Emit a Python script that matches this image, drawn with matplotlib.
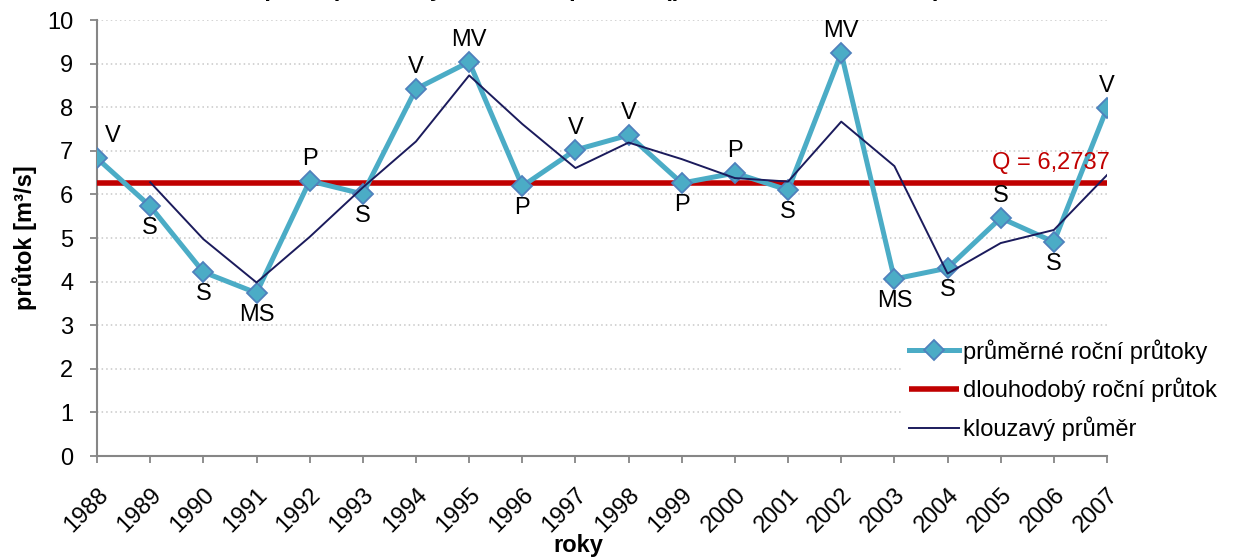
import matplotlib.pyplot as plt
from matplotlib.transforms import ScaledTranslation
import pandas as pd

plt.rcParams['font.family'] = ['Liberation Sans', 'DejaVu Sans']

years = list(range(1988, 2008))
flows = [6.83, 5.73, 4.22, 3.74, 6.31, 6.01, 8.42, 9.04, 6.19, 7.02,
         7.36, 6.26, 6.49, 6.10, 9.24, 4.06, 4.31, 5.46, 4.91, 7.98]
classes = ['V', 'S', 'S', 'MS', 'P', 'S', 'V', 'MV', 'P', 'V',
           'V', 'P', 'P', 'S', 'MV', 'MS', 'S', 'S', 'S', 'V']
label_above = [True, False, False, False, True, False, True, True, False, True,
               True, False, True, False, True, False, False, True, False, True]
q_long = 6.2737

# klouzavy prumer ze dvou po sobe jdoucich let
moving = pd.Series(flows).rolling(2).mean()

blue = '#4BACC6'
red = '#C00000'
navy = '#1B1B5C'
gray = '#868686'
fs = 17

fig = plt.figure(figsize=(12.44, 5.57), dpi=100)
ax = fig.add_axes([0.078, 0.1813, 0.8119, 0.7827])

ax.plot(years, flows, color=blue, lw=3.6, marker='D', markersize=10.5,
        markerfacecolor=blue, markeredgecolor='#4F81BD', markeredgewidth=1.3,
        label='průměrné roční průtoky', zorder=4)
ax.plot([years[0], years[-1]], [q_long, q_long], color=red, lw=4.0,
        label='dlouhodobý roční průtok', zorder=3, solid_capstyle='butt')
ax.plot(years, moving, color=navy, lw=1.4, label='klouzavý průměr', zorder=5)

for yr, val, txt, up in zip(years, flows, classes, label_above):
    dx = 0.3 if yr == 1988 else 0
    if up:
        ax.annotate(txt, (yr + dx, val), xytext=(0, 8), textcoords='offset points',
                    ha='center', va='bottom', fontsize=fs)
    else:
        ax.annotate(txt, (yr, val), xytext=(0, -8), textcoords='offset points',
                    ha='center', va='top', fontsize=fs)

ax.text(years[-1] + 0.05, q_long + 0.2, 'Q = ' + f'{q_long}'.replace('.', ','),
        color=red, fontsize=fs, ha='right', va='bottom', zorder=6)

ax.set_xlim(years[0], years[-1])
ax.set_ylim(0, 10)
ax.set_xticks(years)
ax.set_xticklabels([str(y) for y in years], rotation=45, ha='right', va='top',
                   rotation_mode='anchor', fontsize=fs)
shift = ScaledTranslation(6 / 100, 0, fig.dpi_scale_trans)
for lbl in ax.get_xticklabels():
    lbl.set_transform(lbl.get_transform() + shift)
ax.set_yticks(range(0, 11))
ax.tick_params(axis='y', labelsize=fs, length=5, width=1.3, color=gray, pad=12)
ax.tick_params(axis='x', length=5, width=1.3, color=gray, pad=15)

ax.yaxis.grid(True, linestyle=(0, (1, 2)), color='#C8C8C8', lw=1.1)
ax.set_axisbelow(True)
for side in ['top', 'right']:
    ax.spines[side].set_visible(False)
for side in ['left', 'bottom']:
    ax.spines[side].set_color(gray)
    ax.spines[side].set_linewidth(1.5)

ax.set_xlabel('roky', fontsize=fs, fontweight='bold')
ax.xaxis.set_label_coords(0.477, -0.206)
ax.xaxis.label.set_va('center')
ax.set_ylabel('průtok [m³/s]', fontsize=fs, fontweight='bold')
ax.yaxis.set_label_coords(-0.059, 0.5)

leg = ax.legend(loc='upper left', bbox_to_anchor=(902 / 1244, 1 - 332 / 557),
                bbox_transform=fig.transFigure, frameon=True, fontsize=fs,
                handlelength=2.1, handletextpad=0.2, labelspacing=0.6,
                borderaxespad=0, borderpad=0.3)
leg.get_frame().set_edgecolor('none')
leg.get_frame().set_facecolor('white')
leg.get_frame().set_alpha(1)

fig.text(941 / 1244, 1 + 4 / 557,
         'Vodnost roků podle průměrných ročních průtoků (pro období 1988 – 2007)',
         ha='right', va='baseline', fontsize=fs, fontweight='bold')

fig.savefig('out.png', dpi=100)
